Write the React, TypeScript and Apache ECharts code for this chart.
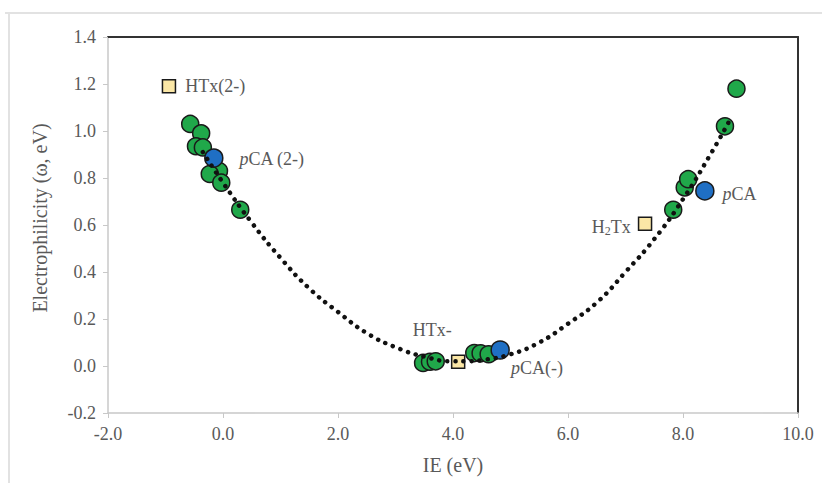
import React, { useEffect, useRef } from "react";
import * as echarts from "echarts";

const greenX = [-0.57, -0.38, -0.47, -0.35, -0.07, -0.23, -0.03, 0.3, 3.48, 3.6, 3.7, 4.37, 4.48, 4.62, 7.83, 8.03, 8.09, 8.73, 8.93];
const greenY = [1.03, 0.99, 0.935, 0.93, 0.83, 0.817, 0.78, 0.665, 0.013, 0.018, 0.02, 0.055, 0.054, 0.05, 0.665, 0.76, 0.795, 1.02, 1.18];
const blueX = [-0.16, 4.82, 8.38];
const blueY = [0.885, 0.068, 0.745];
const squareX = [-0.94, 4.09, 7.34];
const squareY = [1.19, 0.018, 0.605];
const trendX = [-0.35, 0, 0.5, 1, 1.5, 2, 2.5, 3, 3.5, 4, 4.2, 4.5, 5, 5.5, 6, 6.5, 7, 7.5, 8, 8.5, 8.8];
const trendY = [0.91, 0.78, 0.61, 0.46, 0.33, 0.23, 0.14, 0.08, 0.04, 0.02, 0.02, 0.025, 0.05, 0.1, 0.18, 0.27, 0.4, 0.54, 0.71, 0.91, 1.04];

const FONT = "Liberation Serif";
const GREY = "#595959";

const zip = (xs: number[], ys: number[]) => xs.map((x, i) => [x, ys[i]]);

const rich = {
  t: { fontFamily: FONT, fontSize: 18, color: GREY },
  i: { fontFamily: FONT, fontSize: 18, color: GREY, fontStyle: "italic" },
  s: { fontFamily: FONT, fontSize: 12, color: GREY, padding: [9, 0, 0, 0] },
};

export default function App() {
  const ref = useRef<HTMLDivElement>(null);
  useEffect(() => {
    const chart = echarts.init(ref.current!, null, { renderer: "svg" });
    const blueData: any[] = zip(blueX, blueY).map((v, i) => {
      const labels = [
        { show: true, position: "right", distance: 16, offset: [0, 1], formatter: "{i|p}{t|CA (2-)}", rich },
        { show: true, position: "right", distance: 1, offset: [0, 18], formatter: "{i|p}{t|CA(-)}", rich },
        { show: true, position: "right", distance: 8, offset: [0, 3], formatter: "{i|p}{t|CA}", rich },
      ];
      return { value: v, label: labels[i] };
    });
    const squareData: any[] = zip(squareX, squareY).map((v, i) => {
      const labels = [
        { show: true, position: "right", distance: 9, formatter: "{t|HTx(2-)}", rich },
        { show: true, position: "top", distance: 12, offset: [-26, -4], formatter: "{t|HTx-}", rich },
        { show: true, position: "left", distance: 7, offset: [0, 3], formatter: "{t|H}{s|2}{t|Tx}", rich },
      ];
      return { value: v, label: labels[i] };
    });
    const axisLabel = { fontFamily: FONT, fontSize: 18, color: GREY };
    chart.setOption({
      animation: false,
      backgroundColor: "#fff",
      grid: { left: 108, right: 24, top: 37, bottom: 70 },
      graphic: [
        { type: "line", shape: { x1: 5, y1: 13, x2: 822, y2: 13 }, style: { stroke: "#e2e2e2", lineWidth: 2 } },
        { type: "line", shape: { x1: 9, y1: 13, x2: 9, y2: 483 }, style: { stroke: "#e2e2e2", lineWidth: 2 } },
      ],
      xAxis: [
        {
          type: "value", min: -2, max: 10, interval: 2,
          name: "IE (eV)", nameLocation: "middle", nameGap: 42,
          nameTextStyle: { fontFamily: FONT, fontSize: 20, color: GREY },
          axisLine: { onZero: false, lineStyle: { color: "#c8c8c8", width: 1.5 } },
          axisTick: { show: true, length: 5, lineStyle: { color: "#c8c8c8" } },
          axisLabel: { ...axisLabel, margin: 12, formatter: (v: number) => v.toFixed(1) },
          splitLine: { show: false },
        },
        {
          type: "value", min: -2, max: 10, position: "top",
          axisLine: { show: true, onZero: false, lineStyle: { color: "#333", width: 2 } },
          axisTick: { show: false }, axisLabel: { show: false }, splitLine: { show: false },
        },
      ],
      yAxis: [
        {
          type: "value", min: -0.2, max: 1.4, interval: 0.2,
          name: "Electrophilicity (\u03c9, eV)", nameLocation: "middle", nameGap: 58,
          nameTextStyle: { fontFamily: FONT, fontSize: 20, color: GREY, padding: [0, 0, 0, 14] },
          axisLine: { show: true, onZero: false, lineStyle: { color: "#c8c8c8", width: 1.5 } },
          axisTick: { show: true, length: 5, lineStyle: { color: "#c8c8c8" } },
          axisLabel: { ...axisLabel, margin: 12, formatter: (v: number) => v.toFixed(1) },
          splitLine: { show: false },
        },
        {
          type: "value", min: -0.2, max: 1.4, position: "right",
          axisLine: { show: true, onZero: false, lineStyle: { color: "#333", width: 2 } },
          axisTick: { show: false }, axisLabel: { show: false }, splitLine: { show: false },
        },
      ],
      series: [
        {
          type: "scatter", data: zip(greenX, greenY), symbol: "circle", symbolSize: 17,
          itemStyle: { color: "#20a84a", borderColor: "#1a1a1a", borderWidth: 1.5, opacity: 1 }, z: 2,
        },
        {
          type: "scatter", data: blueData, symbol: "circle", symbolSize: 18,
          itemStyle: { color: "#1f6fc4", borderColor: "#1a1a1a", borderWidth: 1.5, opacity: 1 }, z: 3,
        },
        {
          type: "scatter", data: squareData, symbol: "rect", symbolSize: 13,
          itemStyle: { color: "#fbe7a6", borderColor: "#1a1a1a", borderWidth: 1.5, opacity: 1 }, z: 4,
        },
        {
          type: "line", data: zip(trendX, trendY), smooth: true, showSymbol: false, symbol: "none",
          lineStyle: { color: "#111", width: 4.5, type: [0.1, 8], cap: "round" }, z: 5, silent: true,
        },
      ],
    });
    return () => chart.dispose();
  }, []);
  return <div ref={ref} style={{ width: 822, height: 483, position: "absolute", left: 0, top: 0 }} />;
}
